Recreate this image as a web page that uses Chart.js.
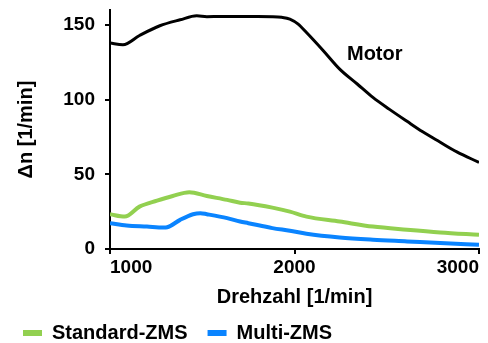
<!DOCTYPE html>
<html>
<head>
<meta charset="utf-8">
<script src="https://cdn.jsdelivr.net/npm/chart.js@4.4.1/dist/chart.umd.min.js"></script>
<style>
  html, body { margin: 0; padding: 0; background: #fff; }
  #wrap { width: 488px; height: 343px; }
</style>
</head>
<body>
<div id="wrap"><canvas id="chart-drehzahl" width="488" height="343"></canvas></div>
<script>
// Drehzahl [1/min] je Kurve
var rpmMotor = [1000, 1070, 1160, 1270, 1380, 1470, 1525, 1600, 1700, 1800, 1880, 1930, 1975, 2020, 2065, 2155, 2245, 2340, 2425, 2515, 2610, 2695, 2790, 2880, 3000];
var motor = [138, 136.8, 143, 149.5, 153.5, 156.2, 155.6, 155.7, 155.7, 155.7, 155.6, 155.2, 154, 150.6, 145, 133, 120.5, 110.5, 101.5, 93.5, 85.5, 78.5, 71.5, 65, 58];

var rpmStandard = [1000, 1080, 1160, 1255, 1340, 1430, 1525, 1635, 1705, 1750, 1880, 1975, 2065, 2245, 2425, 2610, 2790, 3000];
var standardZMS = [23.3, 21.7, 28.4, 32.4, 35.5, 38, 35.5, 32.9, 31, 30.5, 27.7, 25, 21.7, 18.4, 15, 12.9, 11.1, 9.5];

var rpmMulti = [1000, 1090, 1200, 1290, 1310, 1380, 1450, 1490, 1525, 1635, 1705, 1750, 1880, 1975, 2065, 2245, 2425, 2610, 2790, 3000];
var multiZMS = [17.3, 15.7, 15, 14.4, 14.6, 19.5, 23.3, 24, 23.3, 20.7, 18.4, 17.3, 14, 12.2, 10.2, 7.7, 6.2, 5.1, 4, 2.9];

var seriesNames = ["Motor", "Standard-ZMS", "Multi-ZMS"];
var xTicks = [1000, 2000, 3000];
var yTicks = [0, 50, 100, 150];

// Beschriftung "Motor" im Diagramm (Datenkoordinaten)
var motorLabelAt = { x: 2435, y: 130 };

var FONT = "'Liberation Sans', Arial, sans-serif";

function toPoints(xs, ys) {
    var pts = [];
    for (var i = 0; i < xs.length; i++) {
        pts.push({ x: xs[i], y: ys[i] });
    }
    return pts;
}

function makeLine(label, xs, ys, color, width) {
    return {
        label: label,
        data: toPoints(xs, ys),
        borderColor: color,
        backgroundColor: color,
        borderWidth: width,
        pointRadius: 0,
        cubicInterpolationMode: "monotone",
        fill: false
    };
}

var motorLabelPlugin = {
    id: "motorLabel",
    afterDatasetsDraw: function (chart) {
        var ctx = chart.ctx;
        ctx.save();
        ctx.font = "bold 20px " + FONT;
        ctx.fillStyle = "#000";
        ctx.textAlign = "center";
        ctx.textBaseline = "middle";
        ctx.fillText(seriesNames[0],
            chart.scales.x.getPixelForValue(motorLabelAt.x),
            chart.scales.y.getPixelForValue(motorLabelAt.y));
        ctx.restore();
    }
};

var ctx = document.getElementById("chart-drehzahl").getContext("2d");
var chart = new Chart(ctx, {
    type: "line",
    data: {
        datasets: [
            makeLine(seriesNames[0], rpmMotor, motor, "#000000", 3),
            makeLine(seriesNames[1], rpmStandard, standardZMS, "#92d050", 4),
            makeLine(seriesNames[2], rpmMulti, multiZMS, "#0a84ff", 4)
        ]
    },
    options: {
        responsive: false,
        animation: false,
        layout: { padding: { left: 3, right: 9, top: 0, bottom: -10 } },
        plugins: {
            tooltip: { enabled: false },
            legend: {
                position: "bottom",
                align: "start",
                labels: {
                    boxWidth: 19,
                    boxHeight: 6,
                    padding: 20,
                    color: "#000",
                    font: { family: FONT, size: 20, weight: "bold" },
                    filter: function (item) { return item.datasetIndex !== 0; },
                    generateLabels: function (c) {
                        var items = Chart.defaults.plugins.legend.labels.generateLabels(c);
                        items.forEach(function (it) { it.lineWidth = 0; });
                        return items;
                    }
                }
            }
        },
        scales: {
            x: {
                type: "linear",
                min: 1000,
                max: 3000,
                afterBuildTicks: function (s) { s.ticks = xTicks.map(function (v) { return { value: v }; }); },
                afterFit: function (s) { s.height = 54; },
                ticks: {
                    align: "inner",
                    padding: 4,
                    maxRotation: 0,
                    color: "#000",
                    callback: function (v) { return String(v); },
                    font: { family: FONT, size: 19, weight: "bold", lineHeight: 1 }
                },
                grid: { drawOnChartArea: false, tickLength: 5, color: "#000", lineWidth: 2 },
                border: { color: "#000", width: 2 },
                title: {
                    display: true,
                    text: "Drehzahl [1/min]",
                    color: "#000",
                    padding: { top: 0, bottom: 0 },
                    font: { family: FONT, size: 20, weight: "bold", lineHeight: 0.6 }
                }
            },
            y: {
                min: 0,
                max: 160,
                afterBuildTicks: function (s) { s.ticks = yTicks.map(function (v) { return { value: v }; }); },
                afterFit: function (s) { s.width = 107; },
                ticks: {
                    padding: 10,
                    color: "#000",
                    font: { family: FONT, size: 19, weight: "bold", lineHeight: 0.01 }
                },
                grid: { drawOnChartArea: false, tickLength: 5, color: "#000", lineWidth: 2 },
                border: { color: "#000", width: 2 },
                title: {
                    display: true,
                    text: "\u0394n [1/min]",
                    color: "#000",
                    padding: { top: 11, bottom: 0 },
                    font: { family: FONT, size: 20, weight: "bold", lineHeight: 1.2 }
                }
            }
        }
    },
    plugins: [motorLabelPlugin]
});
</script>
</body>
</html>
